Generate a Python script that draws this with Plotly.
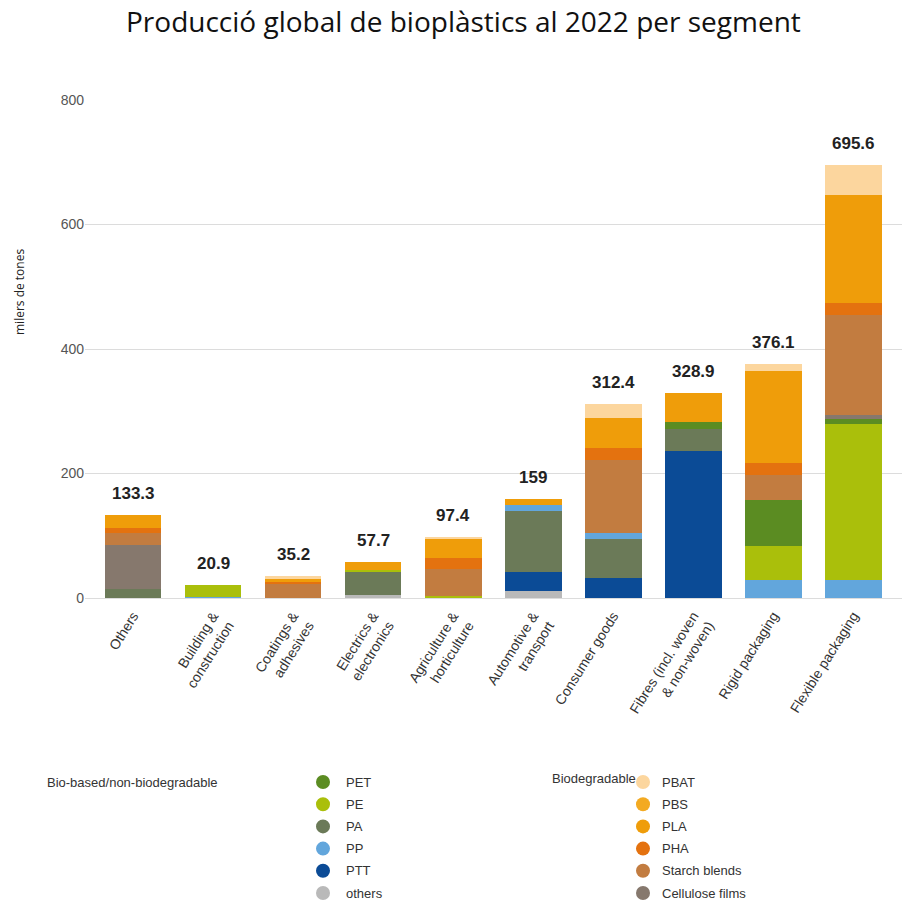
import plotly.graph_objects as go

# Segments (x axis)
segments = [
    "Others",
    "Building &<br>construction",
    "Coatings &<br>adhesives",
    "Electrics &<br>electronics",
    "Agriculture &<br>horticulture",
    "Automotive &<br>transport",
    "Consumer goods",
    "Fibres (incl. woven<br>& non-woven)",
    "Rigid packaging",
    "Flexible packaging",
]

# Totals per segment (thousand tonnes)
totals = [133.3, 20.9, 35.2, 57.7, 97.4, 159, 312.4, 328.9, 376.1, 695.6]

# Bio-based / non-biodegradable materials
others_nb = [0, 0, 0, 5, 0, 12, 0, 0, 0, 0]
ptt = [0, 0, 0, 0, 0, 29, 32, 236, 0, 0]
pa = [15, 0, 0, 37, 0, 98, 62, 35, 0, 0]
pp = [0, 2, 0, 0, 0, 11, 10, 0, 29, 29]
pe = [0, 18.9, 0, 2.5, 4, 0, 0, 0, 54, 250]
pet = [0, 0, 0, 0, 0, 0, 0, 11, 74, 9]

# Biodegradable materials
cellulose = [70, 0, 0, 0, 0, 0, 0, 0, 0, 6]
starch = [20, 0, 24, 0, 42, 0, 117.4, 0, 41, 161]
pha = [8, 0, 3, 0, 18, 0, 20, 0, 19, 19]
pla = [20.3, 0, 3, 13.2, 30, 9, 47, 46.9, 148.1, 173.6]
pbs = [0, 0, 0, 0, 0, 0, 0, 0, 0, 0]
pbat = [0, 0, 5.2, 0, 3.4, 0, 24, 0, 11, 48]

# Stacking order, bottom to top: (name, values, colour)
stack = [
    ("others", others_nb, "#b9b9b9"),
    ("PTT", ptt, "#0b4b96"),
    ("PA", pa, "#6b7a58"),
    ("PP", pp, "#62a6dc"),
    ("PE", pe, "#aabf0b"),
    ("PET", pet, "#5b8c22"),
    ("Cellulose films", cellulose, "#86786d"),
    ("Starch blends", starch, "#c27c40"),
    ("PHA", pha, "#e4720f"),
    ("PLA", pla, "#ef9d0a"),
    ("PBS", pbs, "#f3aa22"),
    ("PBAT", pbat, "#fcd69e"),
]

legend_bio_based = ["PET", "PE", "PA", "PP", "PTT", "others"]
legend_biodegradable = ["PBAT", "PBS", "PLA", "PHA", "Starch blends", "Cellulose films"]
colour_of = {name: col for name, _, col in stack}

W, H = 904, 902
ML, MR, MT, MB = 85, 2, 100, 304
PW, PH = W - ML - MR, H - MT - MB


def px_x(x):
    return (x - ML) / PW


def px_y(y):
    return (H - MB - y) / PH


fig = go.Figure()
for name, vals, col in stack:
    fig.add_trace(go.Bar(
        x=segments, y=vals, name=name,
        marker=dict(color=col, line=dict(width=0)),
        showlegend=False,
        hovertemplate="%{x}<br>" + name + ": %{y}<extra></extra>",
    ))

# Total labels above the bars
for seg, tot in zip(segments, totals):
    label = f"{tot:g}"
    fig.add_annotation(
        x=seg, y=tot, text=f"<b>{label}</b>", showarrow=False,
        yanchor="bottom", yshift=10,
        font=dict(family="Liberation Sans, Arial, sans-serif", size=17, color="#222"),
    )

# Title and y-axis label
fig.add_annotation(
    x=px_x(463), y=px_y(21), xref="paper", yref="paper",
    text="Producció global de bioplàstics al 2022 per segment",
    showarrow=False, xanchor="center", yanchor="middle",
    font=dict(family="Open Sans, sans-serif", size=28, color="#111"),
)
fig.add_annotation(
    x=px_x(19), y=px_y(292), xref="paper", yref="paper",
    text="milers de tones", textangle=-90, showarrow=False,
    xanchor="center", yanchor="middle",
    font=dict(family="Open Sans, sans-serif", size=12, color="#222"),
)

# Custom two-group legend
legend_font = dict(family="Liberation Sans, Arial, sans-serif", size=13, color="#333")
fig.add_annotation(
    x=px_x(45), y=px_y(782), xref="paper", yref="paper",
    text="Bio-based/non-biodegradable", showarrow=False,
    xanchor="left", yanchor="middle", font=legend_font,
)
fig.add_annotation(
    x=px_x(550), y=px_y(778), xref="paper", yref="paper",
    text="Biodegradable", showarrow=False,
    xanchor="left", yanchor="middle", font=legend_font,
)

row_y0, row_step, r = 782, 22.2, 7


def legend_column(names, cx, tx):
    for i, nm in enumerate(names):
        cy = row_y0 + i * row_step
        fig.add_shape(
            type="circle", xref="paper", yref="paper",
            x0=px_x(cx - r), x1=px_x(cx + r), y0=px_y(cy + r), y1=px_y(cy - r),
            fillcolor=colour_of[nm], line=dict(width=0),
        )
        fig.add_annotation(
            x=px_x(tx), y=px_y(cy), xref="paper", yref="paper",
            text=nm, showarrow=False, xanchor="left", yanchor="middle",
            font=legend_font,
        )


legend_column(legend_bio_based, 323, 344)
legend_column(legend_biodegradable, 643, 660)

fig.update_layout(
    width=W, height=H,
    margin=dict(l=ML, r=MR, t=MT, b=MB, autoexpand=False),
    barmode="stack", bargap=0.29,
    plot_bgcolor="white", paper_bgcolor="white",
    showlegend=False,
    xaxis=dict(
        type="category", range=[-0.6, 9.61], tickangle=-58,
        tickfont=dict(family="Liberation Sans, Arial, sans-serif", size=14, color="#333"),
        ticklabelstandoff=6,
        showgrid=False, showline=False, zeroline=False, ticks="",
    ),
    yaxis=dict(
        range=[0, 800], tickvals=[0, 200, 400, 600, 800],
        showgrid=True, gridcolor="#dcdcdc", gridwidth=1,
        zeroline=True, zerolinecolor="#dcdcdc", zerolinewidth=1,
        showline=False, ticks="",
        tickfont=dict(family="Liberation Sans, Arial, sans-serif", size=14, color="#555"),
    ),
)

fig.write_html("out.html")
